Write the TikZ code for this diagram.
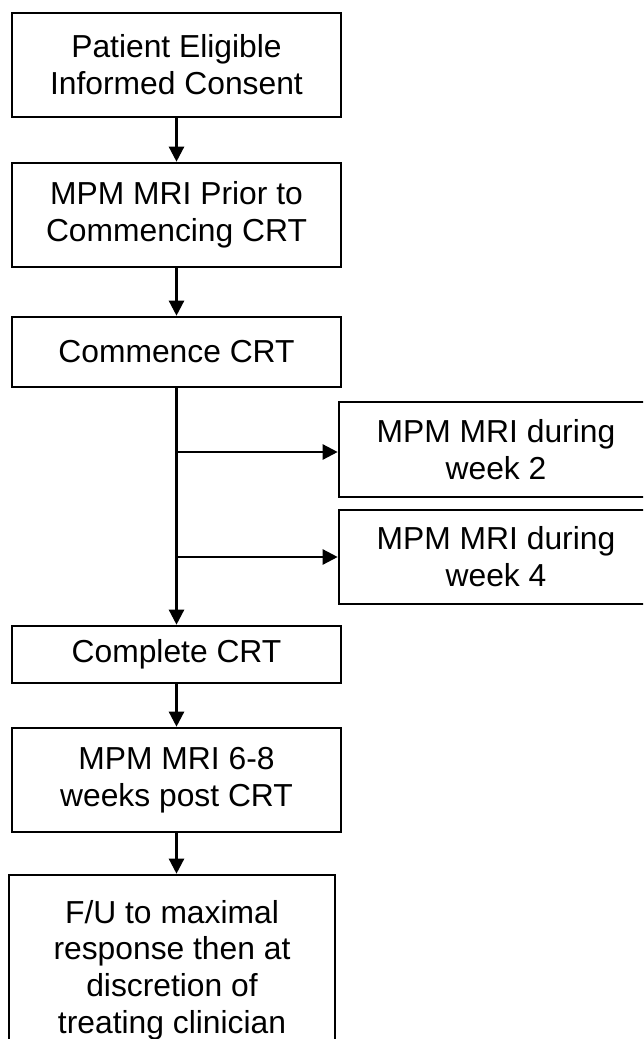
\documentclass[tikz,border=0pt]{standalone}
\usepackage{fontspec}
\setmainfont{Liberation Sans}
\usetikzlibrary{arrows.meta}
\begin{document}
\begin{tikzpicture}[x=1pt,y=1pt,
  box/.style={draw=black, line width=2.6pt, rectangle, inner sep=0pt, align=center,
    font=\fontsize{31.8}{36.8}\selectfont},
  arr/.style={line width=2.4pt, -{Triangle[length=15pt,width=15pt]}}]
\useasboundingbox (0,0) rectangle (643,-1039);
\clip (0,0) rectangle (643,-1039);
\node[box, minimum width=329pt, minimum height=104pt] (b1) at (176.5,-65) {Patient Eligible\\Informed Consent};
\node[box, minimum width=329pt, minimum height=104pt] (b2) at (176.5,-215) {MPM MRI Prior to\\Commencing CRT};
\node[box, minimum width=329pt, minimum height=70pt] (b3) at (176.5,-352) {Commence CRT};
\node[box, minimum width=314pt, minimum height=95pt] (r1) at (496,-449.5) {MPM MRI during\\week 2};
\node[box, minimum width=314pt, minimum height=94pt] (r2) at (496,-557) {MPM MRI during\\week 4};
\node[box, minimum width=329pt, minimum height=57pt] (b4) at (176.5,-654.5) {Complete CRT};
\node[box, minimum width=329pt, minimum height=104pt] (b5) at (176.5,-780) {MPM MRI 6-8\\weeks post CRT};
\node[box, minimum width=326pt, minimum height=190pt] (b6) at (172,-970) {F/U to maximal\\response then at\\discretion of\\treating clinician};
\coordinate (j1) at (b3.south |- 0,-452);
\coordinate (j2) at (b3.south |- r2.west);
\draw[arr] (b1.south) -- (b2.north);
\draw[arr] (b2.south) -- (b3.north);
\draw[arr] (b3.south) -- (b4.north);
\draw[arr] (j1) -- (j1 -| r1.west);
\draw[arr] (j2) -- (r2.west);
\draw[arr] (b4.south) -- (b5.north);
\draw[arr] (b5.south) -- (b5.south |- b6.north);
\end{tikzpicture}
\end{document}
